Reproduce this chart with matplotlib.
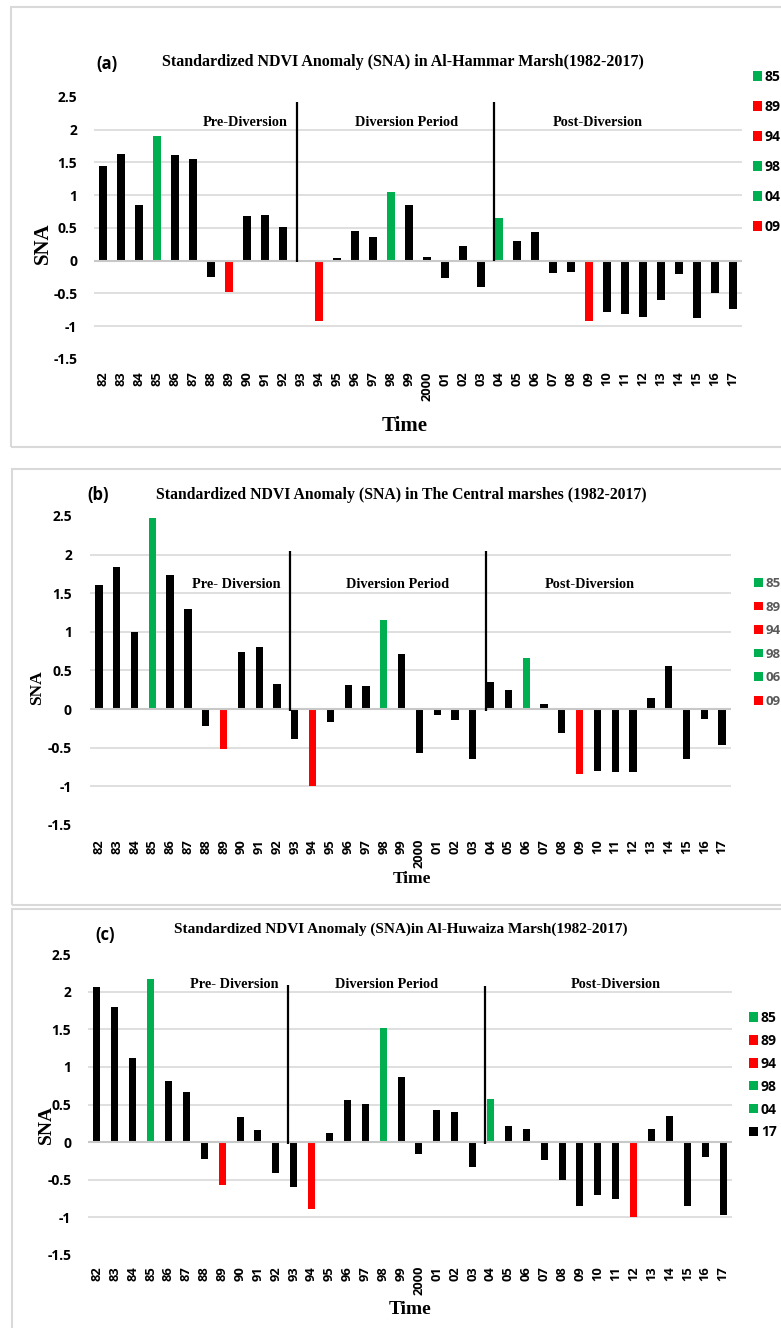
import matplotlib
matplotlib.use('Agg')
import matplotlib.pyplot as plt
from matplotlib.patches import Patch, Rectangle

# ---------------- data ----------------
years = ['82', '83', '84', '85', '86', '87', '88', '89', '90', '91', '92', '93',
         '94', '95', '96', '97', '98', '99', '2000', '01', '02', '03', '04', '05',
         '06', '07', '08', '09', '10', '11', '12', '13', '14', '15', '16', '17']

sna_hammar = [1.44, 1.63, 0.85, 1.91, 1.61, 1.55, -0.25, -0.47, 0.69, 0.70, 0.52, -0.02,
              -0.92, 0.04, 0.45, 0.36, 1.05, 0.85, 0.06, -0.26, 0.22, -0.40, 0.65, 0.30,
              0.44, -0.18, -0.17, -0.92, -0.78, -0.82, -0.86, -0.60, -0.20, -0.87, -0.49, -0.74]

sna_central = [1.61, 1.84, 1.00, 2.48, 1.73, 1.30, -0.22, -0.52, 0.74, 0.81, 0.33, -0.39,
               -1.00, -0.17, 0.31, 0.30, 1.15, 0.71, -0.57, -0.08, -0.14, -0.65, 0.35, 0.25,
               0.66, 0.06, -0.31, -0.84, -0.80, -0.82, -0.82, 0.15, 0.56, -0.65, -0.13, -0.46]

sna_huwaiza = [2.06, 1.79, 1.12, 2.17, 0.81, 0.67, -0.22, -0.57, 0.33, 0.16, -0.41, -0.59,
               -0.89, 0.12, 0.56, 0.51, 1.52, 0.86, -0.16, 0.43, 0.40, -0.33, 0.57, 0.22,
               0.17, -0.24, -0.50, -0.85, -0.70, -0.75, -0.99, 0.17, 0.35, -0.85, -0.20, -0.97]

hammar_green = ['85', '98', '04']
hammar_red = ['89', '94', '09']
central_green = ['85', '98', '06']
central_red = ['89', '94', '09']
huwaiza_green = ['85', '98', '04']
huwaiza_red = ['89', '94', '12']

legend_hammar = ['85', '89', '94', '98', '04', '09']
legend_central = ['85', '89', '94', '98', '06', '09']
legend_huwaiza = ['85', '89', '94', '98', '04', '17']

title_hammar = 'Standardized NDVI Anomaly (SNA) in Al-Hammar Marsh(1982-2017)'
title_central = 'Standardized NDVI Anomaly (SNA) in The Central marshes (1982-2017)'
title_huwaiza = 'Standardized NDVI Anomaly (SNA)in Al-Huwaiza Marsh(1982-2017)'

periods_hammar = ['Pre-Diversion', 'Diversion Period', 'Post-Diversion']
periods_other = ['Pre- Diversion', 'Diversion Period', 'Post-Diversion']

yticks = [-1.5, -1, -0.5, 0, 0.5, 1, 1.5, 2, 2.5]
ytick_labels = ['-1.5', '-1', '-0.5', '0', '0.5', '1', '1.5', '2', '2.5']

# ---------------- style ----------------
W, H = 781, 1328
GREEN = '#00b050'
RED = '#ff0000'
GRID = '#d9d9d9'
SERIF = 'Liberation Serif'
SANS = 'Open Sans'

fig = plt.figure(figsize=(W / 100, H / 100), dpi=100)
fig.patch.set_facecolor('white')


def fx(x):
    return x / W


def fy(y):
    return 1 - y / H


def color_for(y, green, red):
    if y in green:
        return GREEN
    if y in red:
        return RED
    return 'black'


def panel(values, green, red, legend_years, title, tag, periods, cfg):
    x0, x1, ytop, ybot = cfg['axes']
    ax = fig.add_axes([fx(x0), fy(ybot), fx(x1) - fx(x0), (ybot - ytop) / H])
    cols = [color_for(y, green, red) for y in years]
    xs = list(range(len(years)))
    ax.bar(xs, values, width=cfg['bw'], color=cols, zorder=2)
    ax.set_xlim(-0.5, len(years) - 0.5)
    ax.set_ylim(-1.5, 2.5)
    ax.set_yticks(yticks)
    ax.set_yticklabels(ytick_labels, fontfamily=SANS, fontweight='bold', fontsize=10)
    ax.set_xticks(xs)
    ax.set_xticklabels(years, rotation=90, fontfamily=SANS, fontweight='bold', fontsize=9.3)
    ax.tick_params(axis='y', length=0, pad=cfg['ypad'])
    ax.tick_params(axis='x', length=0, pad=cfg['xpad'])
    for s in ax.spines.values():
        s.set_visible(False)
    ax.yaxis.grid(True, color=GRID, lw=1.2, zorder=0)
    ax.set_axisbelow(True)
    gls = ax.get_ygridlines()
    gls[0].set_visible(False)
    gls[-1].set_visible(False)
    ax.axhline(0, color='#c8c8c8', lw=1.5, zorder=3)
    # divider lines
    for (xv, yb, yt) in cfg['dividers']:
        ax.plot([xv, xv], [yb, yt], color='black', lw=1.6, zorder=4, solid_capstyle='butt')
    # texts
    fig.text(fx(cfg['tag'][0]), fy(cfg['tag'][1]), tag, ha='center', va='center',
             fontfamily=SANS, fontweight='bold', fontsize=12)
    fig.text(fx(cfg['title'][0]), fy(cfg['title'][1]), title, ha='center', va='center',
             fontfamily=SERIF, fontweight='bold', fontsize=cfg['title_fs'])
    for lab, (px, py) in zip(periods, cfg['periods']):
        fig.text(fx(px), fy(py), lab, ha='center', va='center',
                 fontfamily=SERIF, fontweight='bold', fontsize=10.3)
    fig.text(fx(cfg['ylab'][0]), fy(cfg['ylab'][1]), 'SNA', ha='center', va='center',
             rotation=90, fontfamily=SERIF, fontweight='bold', fontsize=cfg['lab_fs'])
    fig.text(fx(cfg['xlab'][0]), fy(cfg['xlab'][1]), 'Time', ha='center', va='center',
             fontfamily=SERIF, fontweight='bold', fontsize=cfg['lab_fs'])
    # legend
    handles = [Patch(facecolor=color_for(y, green, red), edgecolor='none')
               for y in legend_years]
    leg = ax.legend(handles, legend_years, loc='upper left',
                    bbox_to_anchor=(fx(cfg['leg'][0]), fy(cfg['leg'][1])),
                    bbox_transform=fig.transFigure, frameon=False,
                    handlelength=0.65, handleheight=0.65, handletextpad=0.2,
                    labelspacing=cfg['leg_sp'], borderpad=0, borderaxespad=0,
                    prop={'family': SANS, 'weight': 'bold', 'size': cfg['leg_fs']})
    for t in leg.get_texts():
        t.set_color(cfg['leg_col'])
    # frame
    fr = cfg['frame']
    fig.patches.append(Rectangle((fx(fr[0]), fy(fr[3])), fx(fr[2]) - fx(fr[0]),
                                 (fr[3] - fr[1]) / H, transform=fig.transFigure,
                                 fill=False, edgecolor=GRID, lw=1.5))
    return ax


cfg_a = dict(axes=(94, 742, 97, 359), bw=0.4, ypad=12, xpad=9,
             dividers=[(10.78, -0.02, 2.42), (21.74, 0.0, 2.43)],
             tag=(107, 64), title=(403, 62), title_fs=11.5,
             periods=[(245, 122), (407, 123), (598, 122)],
             ylab=(43, 243), xlab=(405, 426), lab_fs=15,
             leg=(753, 70), leg_sp=1.15, leg_fs=10, leg_col='black',
             frame=(11, 7, 795, 447))
cfg_b = dict(axes=(90, 731, 516, 825), bw=0.41, ypad=13, xpad=10,
             dividers=[(10.73, -0.02, 2.05), (21.74, -0.02, 2.05)],
             tag=(98, 495), title=(401, 495), title_fs=11.3,
             periods=[(236, 585), (398, 585), (590, 585)],
             ylab=(37, 688), xlab=(412, 879), lab_fs=12.5,
             leg=(754, 577), leg_sp=0.8, leg_fs=9.5, leg_col='#595959',
             frame=(12, 469, 795, 905))
cfg_c = dict(axes=(88, 732, 954, 1255), bw=0.39, ypad=12, xpad=8,
             dividers=[(10.68, -0.02, 2.09), (21.69, -0.03, 2.08)],
             tag=(105, 935), title=(401, 929), title_fs=11,
             periods=[(234, 985), (387, 985), (616, 984)],
             ylab=(46, 1124), xlab=(410, 1310), lab_fs=14,
             leg=(749, 1011), leg_sp=0.64, leg_fs=10, leg_col='black',
             frame=(12, 909, 795, 1340))

panel(sna_hammar, hammar_green, hammar_red, legend_hammar, title_hammar, '(a)',
      periods_hammar, cfg_a)
panel(sna_central, central_green, central_red, legend_central, title_central, '(b)',
      periods_other, cfg_b)
panel(sna_huwaiza, huwaiza_green, huwaiza_red, legend_huwaiza, title_huwaiza, '(c)',
      periods_other, cfg_c)

fig.savefig('out.png', dpi=100, facecolor='white')
